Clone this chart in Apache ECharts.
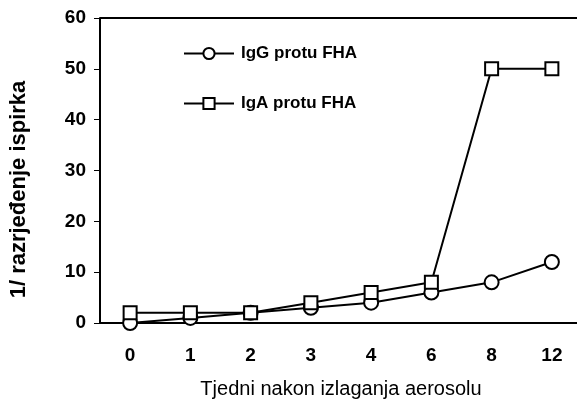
<!DOCTYPE html>
<html>
<head>
<meta charset="utf-8">
<script src="https://cdn.jsdelivr.net/npm/echarts@6/dist/echarts.min.js"></script>
<style>
html, body { margin: 0; padding: 0; background: #fff; }
#chart { width: 577px; height: 401px; }
</style>
</head>
<body>
<div id="chart"></div>
<script>
// podaci
var weeks = ['0', '1', '2', '3', '4', '6', '8', '12'];
var igG = [0, 1, 2, 3, 4, 6, 8, 12];
var igA = [2, 2, 2, 4, 6, 8, 50, 50];

function renderChart() {
	var myChart = echarts.init(document.getElementById('chart'));
	var font = 'Liberation Sans, Arial, sans-serif';
	var option = {
		animation: false,
		grid: {
			left: 100,
			top: 18,
			width: 482,
			height: 305,
			outerBoundsMode: 'none'
		},
		legend: {
			orient: 'vertical',
			left: 183,
			top: 45,
			padding: 0,
			itemWidth: 50,
			itemHeight: 14,
			itemGap: 33,
			textStyle: {
				fontFamily: font,
				fontWeight: 'bold',
				fontSize: 17,
				color: '#000',
				padding: [0, 0, 0, 2]
			},
			data: ['IgG protu FHA', 'IgA protu FHA']
		},
		xAxis: {
			type: 'category',
			data: weeks,
			boundaryGap: true,
			name: 'Tjedni nakon izlaganja aerosolu',
			nameLocation: 'middle',
			nameGap: 56,
			nameTextStyle: { fontFamily: font, fontSize: 20, color: '#000' },
			axisLine: { lineStyle: { color: '#000', width: 2 } },
			axisTick: { alignWithLabel: false, length: 6, lineStyle: { color: '#000', width: 1 } },
			axisLabel: { fontFamily: font, fontWeight: 'bold', fontSize: 19, color: '#000', margin: 23 },
			splitLine: { show: false }
		},
		yAxis: {
			type: 'value',
			min: 0,
			max: 60,
			interval: 10,
			name: '1/ razrjeđenje ispirka',
			nameLocation: 'middle',
			nameGap: 70,
			nameTextStyle: { fontFamily: font, fontWeight: 'bold', fontSize: 22, color: '#000', padding: [0, 38, 0, 0] },
			axisLine: { show: true, lineStyle: { color: '#000', width: 2 } },
			axisTick: { show: true, length: 6, lineStyle: { color: '#000', width: 1 } },
			axisLabel: { fontFamily: font, fontWeight: 'bold', fontSize: 19, color: '#000', margin: 14 },
			splitLine: { show: false }
		},
		graphic: [{
			type: 'line',
			shape: { x1: 100, y1: 18, x2: 577, y2: 18 },
			style: { stroke: '#000', lineWidth: 2 }
		}],
		series: [{
			name: 'IgG protu FHA',
			type: 'line',
			data: igG,
			symbol: 'circle',
			symbolSize: 14,
			lineStyle: { color: '#000', width: 2 },
			itemStyle: { color: '#fff', borderColor: '#000', borderWidth: 2 }
		}, {
			name: 'IgA protu FHA',
			type: 'line',
			data: igA,
			symbol: 'rect',
			symbolSize: 13,
			lineStyle: { color: '#000', width: 2 },
			itemStyle: { color: '#fff', borderColor: '#000', borderWidth: 2 }
		}]
	};
	myChart.setOption(option);
}
renderChart();
</script>
</body>
</html>
